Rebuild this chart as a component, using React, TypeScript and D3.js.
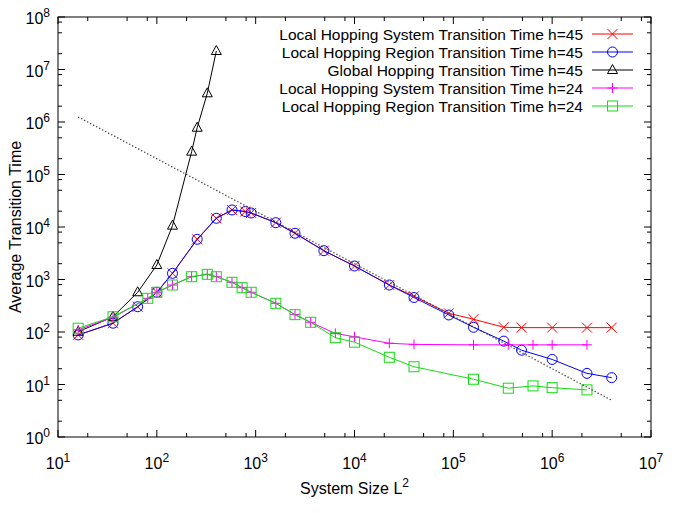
import React from "react";
import * as d3 from "d3";

// ---------- data ----------
const sizes45 = [16, 36, 64, 100, 144, 256, 400, 576, 784, 900, 1600, 2500, 4900, 10000, 22500, 40000, 90000, 160000, 324000, 490000, 1000000, 2250000, 4000000];
const localSystem45 = [88, 147, 303, 571, 1312, 5830, 14650, 21100, 19700, 18500, 12080, 7590, 3540, 1807, 786, 480, 227, 175, 123, 121, 121, 121, 121];
const localRegion45 = [88, 147, 303, 571, 1312, 5830, 14650, 21100, 19700, 18500, 12080, 7590, 3540, 1807, 786, 454, 211, 123, 67, 45, 30, 16.3, 13.5];

const sizesGlobal = [16, 36, 64, 100, 144, 225, 256, 324, 400];
const global45 = [101, 195, 571, 1890, 10600, 272000, 778000, 3520000, 22500000];

const sizes24 = [16, 36, 81, 100, 144, 225, 324, 400, 576, 729, 900, 1600, 2500, 3600, 6400, 10000, 22500, 40000, 160000, 360000, 640000, 1000000, 2250000];
const localSystem24 = [110, 190, 438, 571, 786, 1130, 1256, 1130, 885, 698, 571, 352, 214, 153, 94, 81, 61, 58, 57, 57, 57, 57, 57];
const localRegion24 = [118, 195, 438, 571, 786, 1130, 1256, 1130, 885, 698, 571, 352, 214, 153, 78, 64, 33, 21.8, 12.6, 8.5, 9.4, 8.7, 7.9];

const fitRange = [16, 4000000];
const fitConstant = 2e7;

const legendLabels = [
  "Local Hopping System Transition Time h=45",
  "Local Hopping Region Transition Time h=45",
  "Global Hopping Transition Time h=45",
  "Local Hopping System Transition Time h=24",
  "Local Hopping Region Transition Time h=24",
];

const xTickExps = [1, 2, 3, 4, 5, 6, 7];
const yTickExps = [0, 1, 2, 3, 4, 5, 6, 7, 8];

// ---------- layout ----------
const W = 685, H = 513;
const L = 58, R = 651, T = 17, B = 437;
const FONT = "'Liberation Sans', Arial, sans-serif";

const x = d3.scaleLog().domain([10, 1e7]).range([L, R]);
const y = d3.scaleLog().domain([1, 1e8]).range([B, T]);

type MarkerType = "x" | "circle" | "tri" | "plus" | "square";

function Marker({ type, cx, cy, color }: { type: MarkerType; cx: number; cy: number; color: string }) {
  const s = 5;
  const common = { fill: "none", stroke: color, strokeWidth: 1 };
  if (type === "circle") return <circle cx={cx} cy={cy} r={s} {...common} />;
  if (type === "square") return <rect x={cx - s} y={cy - s} width={2 * s} height={2 * s} {...common} />;
  if (type === "x") return <path d={`M${cx - s},${cy - s}L${cx + s},${cy + s}M${cx - s},${cy + s}L${cx + s},${cy - s}`} {...common} />;
  if (type === "plus") return <path d={`M${cx - s},${cy}H${cx + s}M${cx},${cy - s}V${cy + s}`} {...common} />;
  return <path d={`M${cx},${cy - 5.5}L${cx + 5},${cy + 3.5}L${cx - 5},${cy + 3.5}Z`} {...common} />;
}

const series = [
  { xs: sizes45, ys: localSystem45, color: "#ff0000", marker: "x" as MarkerType },
  { xs: sizes45, ys: localRegion45, color: "#0000ff", marker: "circle" as MarkerType },
  { xs: sizesGlobal, ys: global45, color: "#000000", marker: "tri" as MarkerType },
  { xs: sizes24, ys: localSystem24, color: "#ff00ff", marker: "plus" as MarkerType },
  { xs: sizes24, ys: localRegion24, color: "#11dd11", marker: "square" as MarkerType },
];

export default function App() {
  const line = d3.line<[number, number]>().x(d => x(d[0])).y(d => y(d[1]));
  const minorMults = [2, 5, 8];

  const xMajor = xTickExps.map(e => Math.pow(10, e));
  const yMajor = yTickExps.map(e => Math.pow(10, e));
  const xMinor: number[] = [];
  xTickExps.slice(0, -1).forEach(e => minorMults.forEach(m => xMinor.push(m * Math.pow(10, e))));
  const yMinor: number[] = [];
  yTickExps.slice(0, -1).forEach(e => minorMults.forEach(m => yMinor.push(m * Math.pow(10, e))));

  const tickColor = "#000";
  const fitPts: [number, number][] = fitRange.map(v => [v, fitConstant / v]);

  return (
    <svg width={W} height={H} style={{ position: "absolute", left: 0, top: 0, background: "#fff" }} fontFamily={FONT}>
      <rect x={0} y={0} width={W} height={H} fill="#fff" />
      {/* ticks */}
      <g stroke={tickColor} strokeWidth={1}>
        {xMajor.map((v, i) => (
          <g key={"xm" + i}>
            <line x1={x(v)} x2={x(v)} y1={B} y2={B - 7} />
            <line x1={x(v)} x2={x(v)} y1={T} y2={T + 7} />
          </g>
        ))}
        {xMinor.map((v, i) => (
          <g key={"xn" + i}>
            <line x1={x(v)} x2={x(v)} y1={B} y2={B - 4} />
            <line x1={x(v)} x2={x(v)} y1={T} y2={T + 4} />
          </g>
        ))}
        {yMajor.map((v, i) => (
          <g key={"ym" + i}>
            <line x1={L} x2={L + 7} y1={y(v)} y2={y(v)} />
            <line x1={R} x2={R - 7} y1={y(v)} y2={y(v)} />
          </g>
        ))}
        {yMinor.map((v, i) => (
          <g key={"yn" + i}>
            <line x1={L} x2={L + 4} y1={y(v)} y2={y(v)} />
            <line x1={R} x2={R - 4} y1={y(v)} y2={y(v)} />
          </g>
        ))}
      </g>
      <rect x={L} y={T} width={R - L} height={B - T} fill="none" stroke="#000" strokeWidth={1} />

      {/* tick labels */}
      {xTickExps.map(e => (
        <text key={"xl" + e} x={x(Math.pow(10, e))} y={469} textAnchor="middle" fontSize={16} fill="#000">
          10<tspan fontSize={12} dy={-7}>{e}</tspan>
        </text>
      ))}
      {yTickExps.map(e => (
        <text key={"yl" + e} x={50} y={y(Math.pow(10, e)) + 7} textAnchor="end" fontSize={16} fill="#000">
          10<tspan fontSize={12} dy={-7}>{e}</tspan>
        </text>
      ))}

      {/* axis titles */}
      <text x={(L + R) / 2} y={494} textAnchor="middle" fontSize={16} fill="#000">
        System Size L<tspan fontSize={12} dy={-7}>2</tspan>
      </text>
      <text transform={`translate(21,${(T + B) / 2}) rotate(-90)`} textAnchor="middle" fontSize={16} fill="#000">
        Average Transition Time
      </text>

      {/* series */}
      {series.map((s, i) => {
        const pts: [number, number][] = s.xs.map((v, j) => [v, s.ys[j]]);
        return (
          <g key={"s" + i}>
            <path d={line(pts) || ""} fill="none" stroke={s.color} strokeWidth={1} />
            {pts.map((p, j) => (
              <Marker key={j} type={s.marker} cx={x(p[0])} cy={y(p[1])} color={s.color} />
            ))}
          </g>
        );
      })}

      {/* fit line */}
      <path d={line(fitPts) || ""} fill="none" stroke="#222" strokeWidth={1.2} strokeDasharray="1.2,2.2" />

      {/* legend */}
      {series.map((s, i) => {
        const ry = 34 + i * 18;
        return (
          <g key={"lg" + i}>
            <text x={583} y={ry + 5.5} textAnchor="end" fontSize={15.5} fill="#000">{legendLabels[i]}</text>
            <line x1={592} x2={633} y1={ry} y2={ry} stroke={s.color} strokeWidth={1} />
            <Marker type={s.marker} cx={612.5} cy={ry} color={s.color} />
          </g>
        );
      })}
    </svg>
  );
}
